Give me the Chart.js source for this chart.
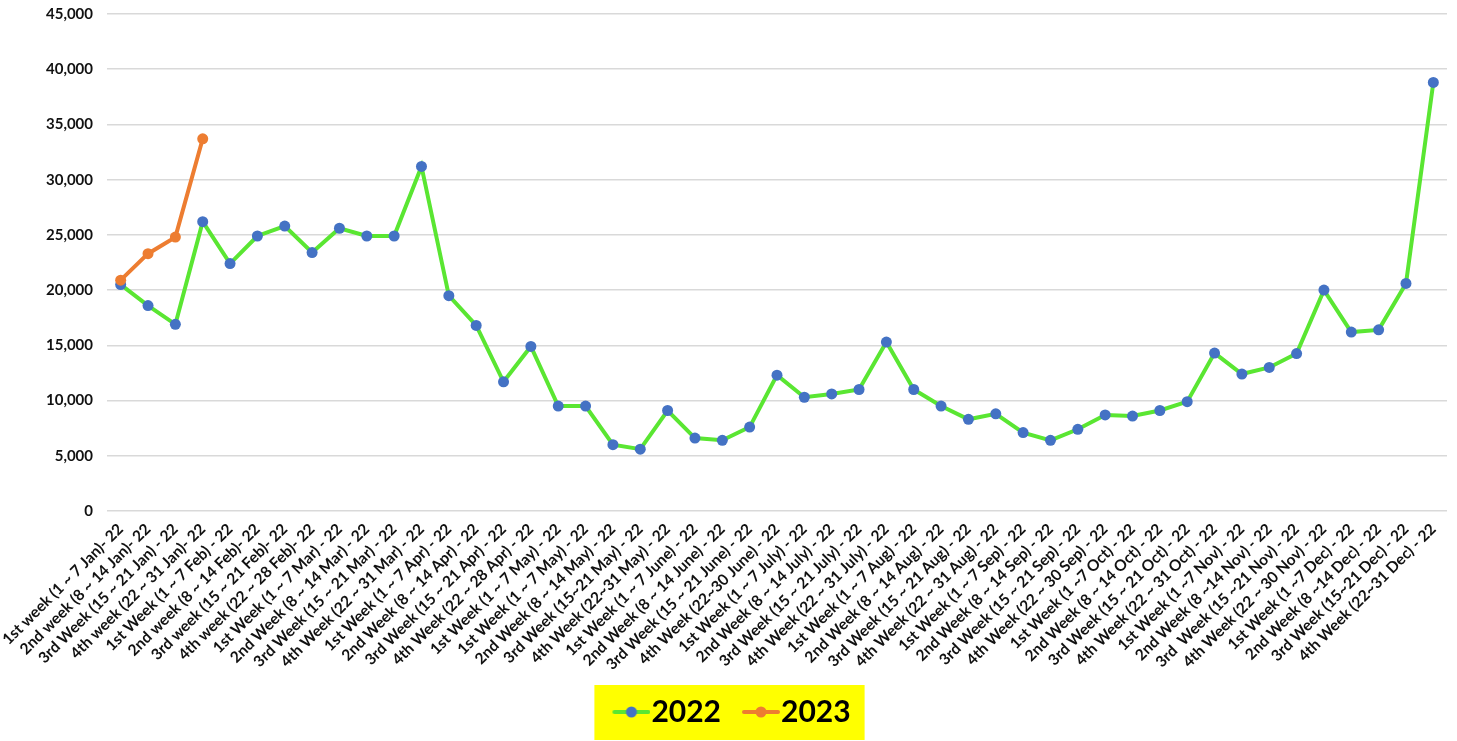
<!DOCTYPE html>
<html>
<head>
<meta charset="utf-8">
<script src="https://cdn.jsdelivr.net/npm/chart.js@4.4.1/dist/chart.umd.min.js"></script>
<style>
  html, body { margin: 0; padding: 0; background: #fff; }
  #wrap { width: 1457px; height: 741px; position: relative; }
</style>
</head>
<body>
<div id="wrap"><canvas id="chart"></canvas></div>
<script>
const WEEKS = [
  "1st week (1 ~ 7 Jan)- 22",
  "2nd week (8 ~ 14 Jan)- 22",
  "3rd Week (15 ~ 21 Jan) - 22",
  "4th week (22 ~ 31 Jan)- 22",
  "1st Week (1 ~ 7 Feb) - 22",
  "2nd week (8 ~ 14 Feb)- 22",
  "3rd week (15 ~ 21 Feb)- 22",
  "4th week (22 ~ 28 Feb)- 22",
  "1st Week (1 ~ 7 Mar) - 22",
  "2nd Week (8 ~ 14 Mar) - 22",
  "3rd Week (15 ~ 21 Mar) - 22",
  "4th Week (22 ~ 31 Mar) - 22",
  "1st Week (1 ~ 7 Apr) - 22",
  "2nd Week (8 ~ 14 Apr) - 22",
  "3rd Week (15 ~ 21 Apr) - 22",
  "4th Week (22 ~ 28 Apr) - 22",
  "1st Week (1 ~ 7 May) - 22",
  "1st Week (1 ~ 7 May) - 22",
  "2nd Week (8 ~ 14 May) - 22",
  "3rd Week (15~21 May) - 22",
  "4th Week (22~31 May) - 22",
  "1st Week (1 ~ 7 June) - 22",
  "2nd Week (8 ~ 14 June) - 22",
  "3rd Week (15 ~ 21 June) - 22",
  "4th Week (22~30 June) - 22",
  "1st Week (1 ~ 7 July) - 22",
  "2nd Week (8 ~ 14 July) - 22",
  "3rd Week (15 ~ 21 July) - 22",
  "4th Week (22 ~ 31 July) - 22",
  "1st Week (1 ~ 7 Aug) - 22",
  "2nd Week (8 ~ 14 Aug) - 22",
  "3rd Week (15 ~ 21 Aug) - 22",
  "4th Week (22 ~ 31 Aug) - 22",
  "1st Week (1 ~ 7 Sep) - 22",
  "2nd Week (8 ~ 14 Sep) - 22",
  "3rd Week (15 ~ 21 Sep) - 22",
  "4th Week (22 ~ 30 Sep) - 22",
  "1st Week (1 ~7 Oct) - 22",
  "2nd Week (8 ~ 14 Oct) - 22",
  "3rd Week (15 ~ 21 Oct) - 22",
  "4th Week (22 ~ 31 Oct) - 22",
  "1st Week (1 ~7 Nov) - 22",
  "2nd Week (8 ~14 Nov) - 22",
  "3rd  Week (15 ~21 Nov) - 22",
  "4th Week (22 ~ 30 Nov) - 22",
  "1st Week (1 ~7 Dec) - 22",
  "2nd Week (8 ~14 Dec) - 22",
  "3rd Week (15~21 Dec) - 22",
  "4th Week (22~31 Dec) - 22",
];

const SALES_2022 = [
  20500, 18600, 16900, 26200, 22400, 24900, 25800, 23400, 25600, 24900,
  24900, 31200, 19500, 16800, 11700, 14900, 9500, 9500, 6000, 5600,
  9100, 6600, 6400, 7600, 12300, 10300, 10600, 11000, 15300, 11000,
  9500, 8300, 8800, 7100, 6400, 7400, 8700, 8600, 9100, 9900,
  14300, 12400, 13000, 14250, 20000, 16200, 16400, 20600, 38800,
];

const SALES_2023 = [20900, 23300, 24800, 33700];

const Y_MAX = 45000;
const Y_STEP = 5000;

const FONT = "Lato";
const TEXT_COLOR = "#111";

// legend marker: line with a dot, drawn in the right part of a wider canvas
function legendMarker(lineColor, dotColor) {
  const c = document.createElement("canvas");
  c.width = 68;
  c.height = 14;
  const g = c.getContext("2d");
  g.strokeStyle = lineColor;
  g.lineWidth = 4;
  g.lineCap = "round";
  g.beginPath();
  g.moveTo(32, 7);
  g.lineTo(66, 7);
  g.stroke();
  g.fillStyle = dotColor;
  g.beginPath();
  g.arc(49, 7, 5.5, 0, Math.PI * 2);
  g.fill();
  return c;
}

const MARKERS = [
  legendMarker("#5ae632", "#4472c4"),
  legendMarker("#ed7d31", "#ed7d31"),
];

// yellow box behind the legend
const legendBackground = {
  id: "legendBackground",
  beforeDraw(chart) {
    const boxes = chart.legend && chart.legend.legendHitBoxes;
    if (!boxes || !boxes.length) return;
    const left = Math.min(...boxes.map((b) => b.left)) - 2;
    const right = Math.max(...boxes.map((b) => b.left + b.width)) + 14;
    const mid = boxes[0].top + boxes[0].height / 2;
    const ctx = chart.ctx;
    ctx.save();
    ctx.fillStyle = "#ffff00";
    ctx.fillRect(left, mid - 27, right - left, 55);
    ctx.restore();
  },
};

const ctx = document.getElementById("chart").getContext("2d");
new Chart(ctx, {
  type: "line",
  data: {
    labels: WEEKS,
    datasets: [
      {
        label: "2022",
        data: SALES_2022,
        borderColor: "#5ae632",
        backgroundColor: "#4472c4",
        pointBackgroundColor: "#4472c4",
        pointBorderWidth: 0,
        pointRadius: 5.5,
        borderWidth: 4,
        tension: 0,
        order: 1,
      },
      {
        label: "2023",
        data: SALES_2023,
        borderColor: "#ed7d31",
        backgroundColor: "#ed7d31",
        pointBackgroundColor: "#ed7d31",
        pointBorderWidth: 0,
        pointRadius: 5.5,
        borderWidth: 4,
        tension: 0,
        order: 0,
      },
    ],
  },
  options: {
    responsive: true,
    maintainAspectRatio: false,
    animation: false,
    layout: {
      padding: { top: 14, right: 10, bottom: 4, left: 0 },
    },
    plugins: {
      tooltip: { enabled: false },
      legend: {
        position: "bottom",
        labels: {
          usePointStyle: true,
          pointStyleWidth: 40,
          padding: 5,
          color: "#000",
          font: { family: FONT, size: 30, weight: "bold" },
          sort: (a, b) => a.datasetIndex - b.datasetIndex,
          generateLabels(chart) {
            const items = Chart.defaults.plugins.legend.labels.generateLabels(chart);
            items.forEach((it) => {
              it.pointStyle = MARKERS[it.datasetIndex];
            });
            return items;
          },
        },
      },
    },
    scales: {
      x: {
        offset: true,
        grid: { display: false, drawTicks: false, offset: true },
        border: { display: false },
        ticks: {
          autoSkip: false,
          maxRotation: 45,
          minRotation: 45,
          padding: 9,
          color: TEXT_COLOR,
          font: { family: FONT, size: 15.5, weight: "bold" },
        },
        afterFit(scale) {
          scale.height = 181;
          // rotated labels may run past the left edge of the plot
          scale.paddingLeft = 0;
          scale.paddingRight = 0;
        },
      },
      y: {
        min: 0,
        max: Y_MAX,
        grid: { color: "#d9d9d9", lineWidth: 1.5, drawTicks: false },
        border: { display: false },
        ticks: {
          stepSize: Y_STEP,
          padding: 14,
          color: TEXT_COLOR,
          font: { family: FONT, size: 15, weight: "bold" },
          callback: (v) => v.toLocaleString("en-US"),
        },
        afterFit(scale) {
          scale.width = 107;
          // top label may stick out above the plot area, like in the original
          scale.paddingTop = 0;
          scale.paddingBottom = 0;
        },
      },
    },
  },
  plugins: [legendBackground],
});
</script>
</body>
</html>
